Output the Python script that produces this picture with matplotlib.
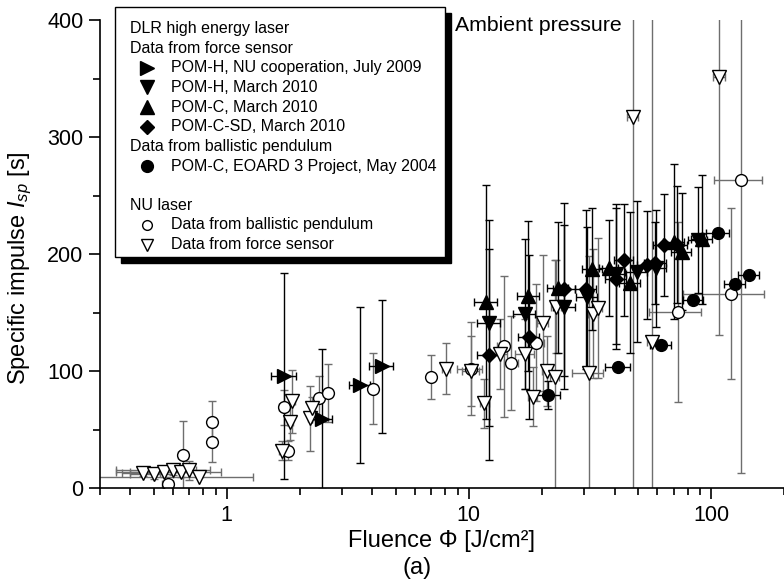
import numpy as np
import matplotlib.pyplot as plt
from matplotlib.lines import Line2D
from matplotlib.patches import Rectangle
from matplotlib.ticker import LogLocator, MultipleLocator, NullFormatter

plt.rcParams['font.family'] = ['Liberation Sans', 'DejaVu Sans']
plt.rcParams['mathtext.fontset'] = 'custom'
plt.rcParams['mathtext.rm'] = 'Liberation Sans'
plt.rcParams['mathtext.it'] = 'Liberation Sans:italic'

# --- DLR high energy laser, force sensor ---
# POM-H, NU cooperation, July 2009
nu09_x = [1.73, 2.48, 3.56, 4.37]
nu09_y = [96, 59, 88, 104]
nu09_yerr = [88, 60, 67, 57]
nu09_xerr = [0.20, 0.23, 0.36, 0.50]

# POM-H, March 2010
pomh_x = [12.1, 17.0, 24.8, 30.8, 40.6, 49.3, 59.3, 88.5]
pomh_y = [141, 149, 155, 163, 183, 185, 188, 212]
pomh_yerr = [88, 64, 70, 60, 60, 60, 50, 45]
pomh_xerr = [1.3, 1.8, 2.5, 3.0, 4.0, 5.0, 6.0, 8.0]

# POM-C, March 2010
pomc_x = [11.8, 17.6, 23.3, 32.3, 37.9, 46.3, 70.3, 75.6, 91.4]
pomc_y = [159, 164, 171, 187, 188, 175.5, 210.5, 202, 212.6]
pomc_yerr = [100, 64, 56, 52, 41, 60, 66, 50, 55]
pomc_xerr = [1.3, 1.8, 2.3, 3.0, 3.5, 4.5, 7.0, 7.0, 9.0]

# POM-C-SD, March 2010
pomcsd_x = [12.1, 17.7, 24.8, 30.5, 40.6, 43.8, 54.6, 58.9, 63.8, 72.5]
pomcsd_y = [114, 129, 170, 170, 179, 195, 190.6, 192, 207.7, 208]
pomcsd_yerr = [90, 70, 74, 68, 60, 48, 46, 35, 44, 50]
pomcsd_xerr = [1.3, 1.8, 2.5, 3.0, 4.0, 4.0, 5.0, 6.0, 6.0, 7.0]

# --- DLR, ballistic pendulum: POM-C, EOARD 3 Project, May 2004 ---
eoard_x = [21.3, 41.4, 62.0, 84.3, 107.0, 125.5, 143.3]
eoard_y = [79.5, 103.7, 122, 160.7, 218, 174.4, 182]
eoard_yerr = [12, 3, 3, 3, 3, 3, 3]
eoard_xerr = [2.5, 5.0, 6.0, 8.0, 12.0, 12.0, 14.0]

# --- NU laser, ballistic pendulum ---
nupend_x = [0.57, 0.66, 0.87, 0.87, 1.72, 1.80, 2.40, 2.62, 4.01, 6.96,
            10.17, 13.9, 14.9, 19.0, 73.2, 120.9, 132.5]
nupend_y = [3, 28, 56, 39, 69, 32, 77, 81, 85, 95,
            102, 121, 107, 124, 150.7, 166, 263]
nupend_yerr = [3, 29, 18, 17, 15, 8, 19, 25, 30, 19,
               40, 60, 40, 50, 77, 73, 250]
nupend_xerr = [0.03, 0.03, 0.02, 0.02, 0.08, 0.05, 0.05, 0.05, 0.10, 0.10,
               1.2, 0.8, 1.0, 1.5, 18, 44, 30]

# --- NU laser, force sensor ---
nuforce_x = [0.45, 0.50, 0.55, 0.60, 0.65, 0.70, 0.77, 1.69, 1.86, 1.83,
             2.21, 2.25, 8.03, 10.17, 11.6, 13.4, 17.0, 18.4, 20.2, 21.0,
             22.6, 22.9, 31.2, 32.5, 34.1, 47.5, 57.2, 107.9]
nuforce_y = [13, 12, 14, 15, 14, 15, 9, 32, 74, 56,
             59.5, 68, 102, 100, 72.4, 114.5, 114.5, 78, 141, 100,
             94.6, 155, 98.6, 149, 153.6, 317, 125, 351]
nuforce_yerr = [3, 4, 5, 4, 5, 8, 0, 8, 27, 15,
                28, 10, 22, 30, 21, 30, 30, 25, 58, 30,
                100, 40, 100, 55, 60, 330, 300, 220]
nuforce_xerr = [0.08, 0.10, 0.15, 0.25, 0.30, 0.05, 0.51, 0.05, 0.05, 0.05,
                0.05, 0.05, 0.30, 0.80, 0.50, 1.0, 1.5, 0.8, 1.0, 1.0,
                1.0, 1.0, 4.5, 1.5, 1.5, 2.5, 3.0, 6.0]

fig = plt.figure(figsize=(7.84, 5.83), dpi=100)
ax = fig.add_axes([100 / 784, 1 - 488 / 583, 684 / 784, 468 / 583])

grey = '#6e6e6e'
common = dict(linestyle='none', elinewidth=1.0, capsize=3, capthick=1.0)

ax.errorbar(nupend_x, nupend_y, yerr=nupend_yerr, xerr=nupend_xerr, fmt='o', ms=8.5,
            mfc='white', mec='black', mew=1.0, ecolor=grey, **common)
ax.errorbar(nuforce_x, nuforce_y, yerr=nuforce_yerr, xerr=nuforce_xerr, fmt='v', ms=10,
            mfc='white', mec='black', mew=1.0, ecolor=grey, **common)
ax.errorbar(eoard_x, eoard_y, yerr=eoard_yerr, xerr=eoard_xerr, fmt='o', ms=8.5,
            color='black', ecolor='black', **common)
ax.errorbar(pomcsd_x, pomcsd_y, yerr=pomcsd_yerr, xerr=pomcsd_xerr, fmt='D', ms=7.5,
            color='black', ecolor='black', **common)
ax.errorbar(pomc_x, pomc_y, yerr=pomc_yerr, xerr=pomc_xerr, fmt='^', ms=10,
            color='black', ecolor='black', **common)
ax.errorbar(pomh_x, pomh_y, yerr=pomh_yerr, xerr=pomh_xerr, fmt='v', ms=10,
            color='black', ecolor='black', **common)
ax.errorbar(nu09_x, nu09_y, yerr=nu09_yerr, xerr=nu09_xerr, fmt='>', ms=10,
            color='black', ecolor='black', **common)

ax.set_xscale('log')
ax.set_xlim(0.3, 200)
ax.set_ylim(0, 400)
ax.set_xticks([1, 10, 100], labels=['1', '10', '100'])
ax.xaxis.set_minor_locator(LogLocator(base=10, subs=range(2, 10)))
ax.xaxis.set_minor_formatter(NullFormatter())
ax.set_yticks([0, 100, 200, 300, 400])
ax.yaxis.set_minor_locator(MultipleLocator(50))

for side in ['top', 'right']:
    ax.spines[side].set_visible(False)
for side in ['left', 'bottom']:
    ax.spines[side].set_linewidth(1.2)
ax.tick_params(which='major', direction='out', length=8, width=1.2, labelsize=15.5, pad=4)
ax.tick_params(which='minor', direction='out', length=5, width=1.2)

ax.set_ylabel('Specific impulse $I_{sp}$ [s]', fontsize=17)
ax.yaxis.set_label_coords(-0.097, 0.47)
ax.set_xlabel('Fluence \u03a6 [J/cm\u00b2]', fontsize=17, labelpad=3)
fig.text(417 / 784, 1 - 568 / 583, '(a)', fontsize=17, ha='center', va='center')

ax.text(0.519, 0.988, 'Ambient pressure', transform=ax.transAxes,
        fontsize=15.3, va='center', ha='left')

# legend box drawn by hand (headers sit left of the marker column)
W, H = 784.0, 583.0
def fx(px):
    return px / W
def fy(py):
    return 1 - py / H

shadow = Rectangle((fx(121), fy(263)), fx(451) - fx(121), fy(13) - fy(263),
                   transform=fig.transFigure, facecolor='black', edgecolor='black', zorder=5)
box = Rectangle((fx(115), fy(257)), fx(445) - fx(115), fy(7) - fy(257),
                transform=fig.transFigure, facecolor='white', edgecolor='black',
                linewidth=1.0, zorder=6)
fig.add_artist(shadow)
fig.add_artist(box)

leg_rows = [
    (None, 'DLR high energy laser'),
    (None, 'Data from force sensor'),
    (dict(marker='>', mfc='black', ms=10), 'POM-H, NU cooperation, July 2009'),
    (dict(marker='v', mfc='black', ms=10), 'POM-H, March 2010'),
    (dict(marker='^', mfc='black', ms=10), 'POM-C, March 2010'),
    (dict(marker='D', mfc='black', ms=7.5), 'POM-C-SD, March 2010'),
    (None, 'Data from ballistic pendulum'),
    (dict(marker='o', mfc='black', ms=8.5), 'POM-C, EOARD 3 Project, May 2004'),
    (None, ''),
    (None, 'NU laser'),
    (dict(marker='o', mfc='white', ms=7), 'Data from ballistic pendulum'),
    (dict(marker='v', mfc='white', ms=8), 'Data from force sensor'),
]
row0, step = 28.5, 19.65
for i, (mk, label) in enumerate(leg_rows):
    py = row0 + i * step
    if mk is None:
        fig.text(fx(130), fy(py), label, fontsize=11.5, va='center', ha='left', zorder=7)
    else:
        fig.add_artist(Line2D([fx(147)], [fy(py)], transform=fig.transFigure,
                              linestyle='none', mec='black', mew=1.0, zorder=7, **mk))
        fig.text(fx(171), fy(py), label, fontsize=11.5, va='center', ha='left', zorder=7)

fig.savefig('out.png', dpi=100)
